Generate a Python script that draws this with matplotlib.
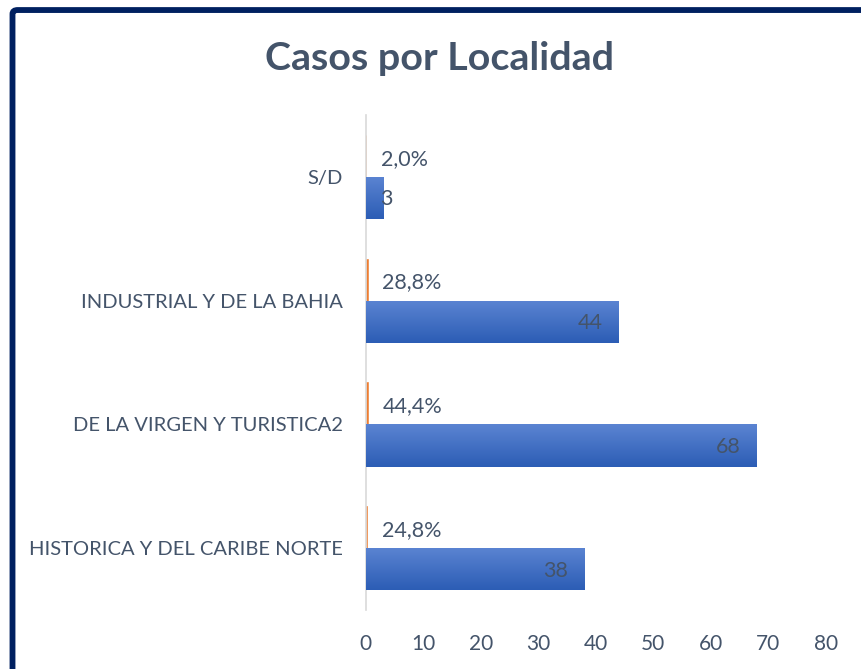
import numpy as np
import matplotlib.pyplot as plt
from matplotlib.patches import FancyBboxPatch
from matplotlib.colors import LinearSegmentedColormap

# casos por localidad (from bottom to top)
localidades = ['HISTORICA Y DEL CARIBE NORTE', 'DE LA VIRGEN Y TURISTICA2',
               'INDUSTRIAL Y DE LA BAHIA', 'S/D']
casos = [38, 68, 44, 3]
porcentaje = [0.248, 0.444, 0.288, 0.020]
pct_labels = ['24,8%', '44,4%', '28,8%', '2,0%']

txt_color = '#44546A'
plt.rcParams['font.family'] = ['Lato', 'DejaVu Sans']

fig = plt.figure(figsize=(8.61, 6.69), dpi=100)
ax = fig.add_axes([0.425, 0.088, 0.534, 0.74])

# dark frame (only top and left visible in the crop)
frame = FancyBboxPatch((12.5 / 861, -0.2), 1.2, 1.185,
                       boxstyle='round,pad=0,rounding_size=0.006',
                       transform=fig.transFigure, fill=False,
                       edgecolor='#002060', linewidth=4.2, zorder=0)
fig.patches.append(frame)

y = np.arange(len(localidades))
h = 0.34
bars = ax.barh(y - h / 2, casos, height=h, color='#4472C4', zorder=2)
ax.barh(y + h / 2, porcentaje, height=h, color='#ED7D31',
        edgecolor='#ED7D31', linewidth=0.4, zorder=2)

# vertical gradient on the blue bars
grad = np.linspace(0, 1, 100).reshape(-1, 1)
cmap = LinearSegmentedColormap.from_list('g', ['#2C5DB5', '#5B84D2'])
for b in bars:
    x0, y0 = b.get_x(), b.get_y()
    w, hh = b.get_width(), b.get_height()
    im = ax.imshow(grad, extent=[x0, x0 + w, y0, y0 + hh], aspect='auto',
                   cmap=cmap, origin='lower', zorder=3)
    im.set_clip_path(b)

for yi, c, p, lab in zip(y, casos, porcentaje, pct_labels):
    ax.annotate(lab, (p, yi + h / 2), xytext=(10.5, -2), textcoords='offset points',
                va='center', ha='left', fontsize=15.5, color=txt_color, zorder=4)
    if c < 6:
        ax.annotate(str(c), (c, yi - h / 2), xytext=(-2, -1), textcoords='offset points',
                    va='center', ha='left', fontsize=15.5, color=txt_color, zorder=4)
    else:
        ax.annotate(str(c), (c, yi - h / 2), xytext=(-11.5, -1), textcoords='offset points',
                    va='center', ha='right', fontsize=15.5, color=txt_color, zorder=4)

ax.set_xlim(0, 80)
ax.set_ylim(-0.5, 3.5)
ax.set_xticks(range(0, 81, 10))
ax.set_yticks(y)
ax.set_yticklabels(localidades)
ax.tick_params(axis='both', length=0, labelsize=15, colors=txt_color)
ax.tick_params(axis='y', labelsize=14.5)
ax.tick_params(axis='x', pad=17)
ax.tick_params(axis='y', pad=16.5)
for s in ['top', 'right', 'bottom']:
    ax.spines[s].set_visible(False)
ax.spines['left'].set_color('#D9D9D9')
ax.spines['left'].set_linewidth(1.2)

fig.text(0.51, 0.912, 'Casos por Localidad', ha='center', va='center',
         fontsize=28.4, fontweight='bold', color=txt_color)

fig.savefig('out.png', dpi=100)
